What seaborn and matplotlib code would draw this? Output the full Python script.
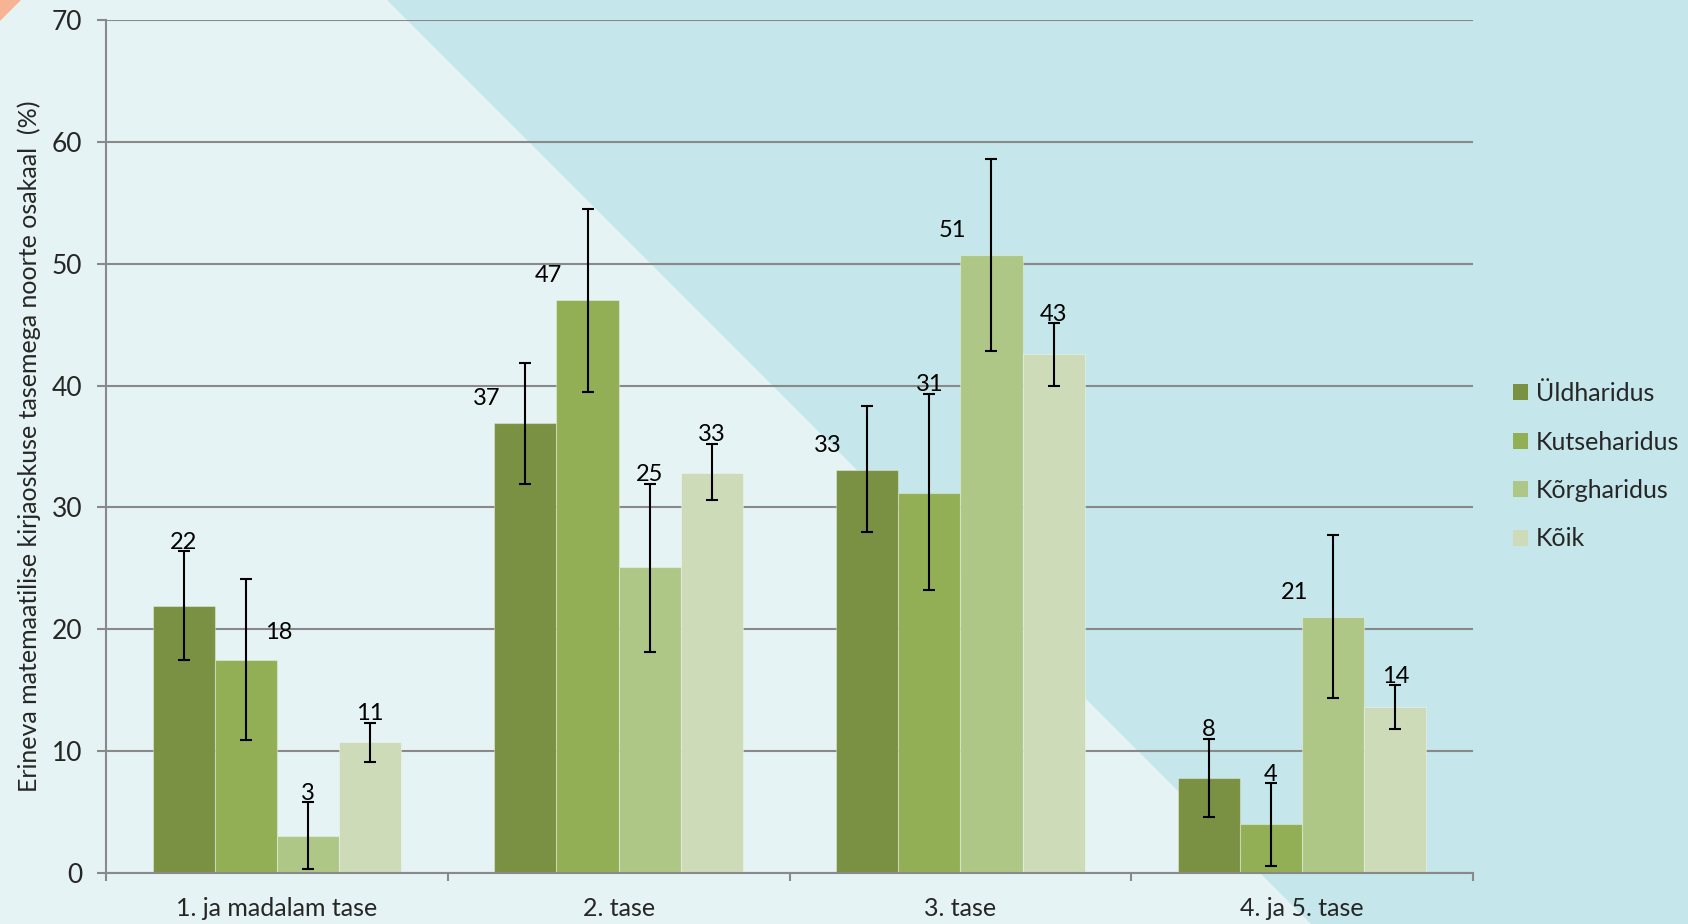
import matplotlib
matplotlib.use("Agg")
import matplotlib.pyplot as plt
from matplotlib.patches import Polygon, Patch
import seaborn as sns
import pandas as pd
import numpy as np

# ---------------- data ----------------
categories = ["1. ja madalam tase", "2. tase", "3. tase", "4. ja 5. tase"]
series = ["Üldharidus", "Kutseharidus", "Kõrgharidus", "Kõik"]

uld = [21.9, 36.9, 33.1, 7.8]
kutse = [17.5, 47.0, 31.2, 4.0]
korg = [3.05, 25.1, 50.7, 21.0]
koik = [10.75, 32.8, 42.6, 13.6]

uld_lo = [17.5, 31.95, 28.0, 4.6]
uld_hi = [26.4, 41.85, 38.3, 11.0]
kutse_lo = [10.9, 39.5, 23.2, 0.6]
kutse_hi = [24.1, 54.5, 39.3, 7.35]
korg_lo = [0.35, 18.1, 42.8, 14.4]
korg_hi = [5.8, 31.95, 58.6, 27.7]
koik_lo = [9.1, 30.6, 40.0, 11.8]
koik_hi = [12.3, 35.2, 45.1, 15.4]

uld_lbl = ["22", "37", "33", "8"]
kutse_lbl = ["18", "47", "31", "4"]
korg_lbl = ["3", "25", "51", "21"]
koik_lbl = ["11", "33", "43", "14"]

yticks = [0, 10, 20, 30, 40, 50, 60, 70]
ylabel = "Erineva matemaatilise kirjaoskuse tasemega noorte osakaal  (%)"

# ---------------- layout / style ----------------
colors = ["#7A9143", "#93AF56", "#AFC786", "#CEDBB8"]
label_modes = [
    ["err", "left", "left", "err"],
    ["right", "left", "err", "err"],
    ["err", "err", "left", "left"],
    ["err", "err", "err", "err"],
]
FONT = ["Lato", "DejaVu Sans"]

values = [uld, kutse, korg, koik]
lows = [uld_lo, kutse_lo, korg_lo, koik_lo]
highs = [uld_hi, kutse_hi, korg_hi, koik_hi]
labels = [uld_lbl, kutse_lbl, korg_lbl, koik_lbl]

rows = []
for s, vals in zip(series, values):
    for c, v in zip(categories, vals):
        rows.append({"cat": c, "series": s, "value": v})
df = pd.DataFrame(rows)

sns.set_theme(style="white")
plt.rcParams["font.family"] = FONT

W, H = 1688, 924
fig = plt.figure(figsize=(W / 100, H / 100), dpi=100)
fig.patch.set_facecolor("#E6F3F4")

# decorative background
fig.add_artist(Polygon([(387 / W, 1), (1, 1), (1, 0), (1311 / W, 0)],
                       closed=True, transform=fig.transFigure,
                       facecolor="#C5E6EA", edgecolor="none", zorder=-2))
fig.add_artist(Polygon([(0, 1), (21 / W, 1), (0, 1 - 21 / H)],
                       closed=True, transform=fig.transFigure,
                       facecolor="#F7B495", edgecolor="none", zorder=-2))

ax = fig.add_axes([106 / W, (H - 873) / H, (1473 - 106) / W, (873 - 20) / H])
ax.patch.set_alpha(0)

sns.barplot(data=df, x="cat", y="value", hue="series", order=categories,
            hue_order=series, palette=colors, width=4 / 5.5, errorbar=None,
            saturation=1, ax=ax, legend=False, zorder=2,
            edgecolor=(1, 1, 1, 0.35), linewidth=0.8)

bar_containers = list(ax.containers)

# error bars and labels
for i, cont in enumerate(bar_containers):
    for j, bar in enumerate(cont.patches):
        xc = bar.get_x() + bar.get_width() / 2
        v = values[i][j]
        lo = lows[i][j]
        hi = highs[i][j]
        ax.errorbar(xc, v, yerr=[[v - lo], [hi - v]], fmt="none",
                    ecolor="black", elinewidth=1.5, capsize=4.5,
                    capthick=1.5, zorder=4)
        mode = label_modes[i][j]
        if mode == "err":
            y, dx = hi + 0.75, 0
        elif mode == "left":
            y, dx = v + 2.0, -28
        else:
            y, dx = v + 2.2, 24
        ax.annotate(labels[i][j], (xc, y), xytext=(dx, 0),
                    textcoords="offset points", ha="center", va="center",
                    fontsize=17, color="black", zorder=5)

ax.set_ylim(0, 70)
ax.set_xlim(-0.5, 3.5)
ax.set_yticks(yticks)
ax.set_yticklabels([str(t) for t in yticks], fontsize=19)
ax.set_xticks(range(len(categories)))
ax.set_xticklabels(categories, fontsize=18)
ax.set_xticks([-0.5, 0.5, 1.5, 2.5, 3.5], minor=True)
ax.tick_params(axis="x", which="major", length=0, pad=17)
ax.tick_params(axis="x", which="minor", length=6, width=1.5,
               color="#898989", direction="out", bottom=True)
ax.tick_params(axis="y", which="major", length=6.5, width=1.5,
               color="#898989", direction="out", pad=10.5, left=True)
ax.set_xlabel("")
ax.set_ylabel("")
ax.yaxis.grid(True, color="#898989", linewidth=1.5)
ax.xaxis.grid(False)
ax.set_axisbelow(True)
for sp in ["top", "right"]:
    ax.spines[sp].set_visible(False)
for sp in ["left", "bottom"]:
    ax.spines[sp].set_color("#898989")
    ax.spines[sp].set_linewidth(1.5)

fig.text(29 / W, 1 - 446 / H, ylabel, rotation=90, ha="center", va="center",
         fontsize=18, family=["Lato", "DejaVu Sans"])

handles = [Patch(facecolor=c, edgecolor="none") for c in colors]
fig.legend(handles, series, loc="upper left",
           bbox_to_anchor=(1513 / W, 1 - 382 / H), frameon=False,
           fontsize=18, handlelength=0.6, handleheight=0.6,
           handletextpad=0.3, labelspacing=1.02, borderaxespad=0,
           borderpad=0)

fig.savefig("out.png", dpi=100, facecolor=fig.get_facecolor())
